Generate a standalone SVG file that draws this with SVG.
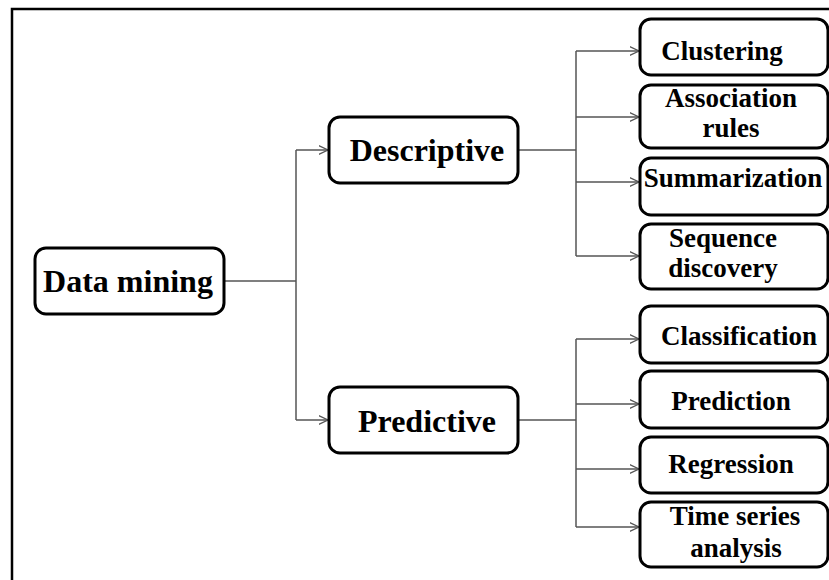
<svg xmlns="http://www.w3.org/2000/svg" width="829" height="580" viewBox="0 0 829 580">
<style>
.box{fill:#fff;stroke:#000;stroke-width:3}
.t{font-family:'Liberation Serif','Times New Roman',Times,'DejaVu Serif',serif;font-weight:700;fill:#000;text-anchor:middle}
.big{font-size:32px}
.sm{font-size:27px}
.c{fill:none;stroke:#555;stroke-width:1.5}
</style>
<defs>
<marker id="arr" viewBox="0 0 10 10" refX="9.5" refY="5" markerWidth="10" markerHeight="10" markerUnits="userSpaceOnUse" orient="auto">
<path d="M0,0.5 L9.5,5 L0,9.5" fill="none" stroke="#555" stroke-width="1.3"/>
</marker>
</defs>
<rect width="829" height="580" fill="#fff"/>
<path d="M12,582 V9 H831" fill="none" stroke="#000" stroke-width="2.5"/>
<g id="connectors">
<path class="c" d="M224,281 H296"/>
<path class="c" d="M296,150 V420"/>
<path class="c" d="M296,150 H328" marker-end="url(#arr)"/>
<path class="c" d="M296,420 H328" marker-end="url(#arr)"/>
<path class="c" d="M518,150 H576"/>
<path class="c" d="M576,51 V256"/>
<path class="c" d="M576,51 H639" marker-end="url(#arr)"/>
<path class="c" d="M576,117 H639" marker-end="url(#arr)"/>
<path class="c" d="M576,182 H639" marker-end="url(#arr)"/>
<path class="c" d="M576,256 H639" marker-end="url(#arr)"/>
<path class="c" d="M518,420 H576"/>
<path class="c" d="M576,339 V527"/>
<path class="c" d="M576,339 H639" marker-end="url(#arr)"/>
<path class="c" d="M576,404 H639" marker-end="url(#arr)"/>
<path class="c" d="M576,469 H639" marker-end="url(#arr)"/>
<path class="c" d="M576,527 H639" marker-end="url(#arr)"/>
</g>
<g id="data-mining">
<rect class="box" x="35" y="248" width="189" height="66" rx="11"/>
<text class="t big" x="128" y="292">Data mining</text>
</g>
<g id="descriptive">
<rect class="box" x="329" y="117" width="189" height="66" rx="11"/>
<text class="t big" x="427" y="161">Descriptive</text>
</g>
<g id="predictive">
<rect class="box" x="329" y="387" width="189" height="66" rx="11"/>
<text class="t big" x="427" y="432">Predictive</text>
</g>
<g id="clustering">
<rect class="box" x="640" y="19" width="188" height="56" rx="11"/>
<text class="t sm" x="722" y="60">Clustering</text>
</g>
<g id="association-rules">
<rect class="box" x="640" y="85" width="188" height="63" rx="11"/>
<text class="t sm" x="731" y="107">Association</text>
<text class="t sm" x="731" y="137">rules</text>
</g>
<g id="summarization">
<rect class="box" x="640" y="158" width="188" height="57" rx="11"/>
<text class="t sm" x="733" y="187">Summarization</text>
</g>
<g id="sequence-discovery">
<rect class="box" x="640" y="224" width="188" height="65" rx="11"/>
<text class="t sm" x="723" y="247">Sequence</text>
<text class="t sm" x="723" y="277">discovery</text>
</g>
<g id="classification">
<rect class="box" x="640" y="306" width="188" height="57" rx="11"/>
<text class="t sm" x="739" y="345">Classification</text>
</g>
<g id="prediction">
<rect class="box" x="640" y="371" width="188" height="57" rx="11"/>
<text class="t sm" x="731" y="410">Prediction</text>
</g>
<g id="regression">
<rect class="box" x="640" y="437" width="188" height="56" rx="11"/>
<text class="t sm" x="731" y="473">Regression</text>
</g>
<g id="time-series-analysis">
<rect class="box" x="640" y="502" width="188" height="65" rx="11"/>
<text class="t sm" x="735" y="525">Time series</text>
<text class="t sm" x="736" y="557">analysis</text>
</g>
</svg>
